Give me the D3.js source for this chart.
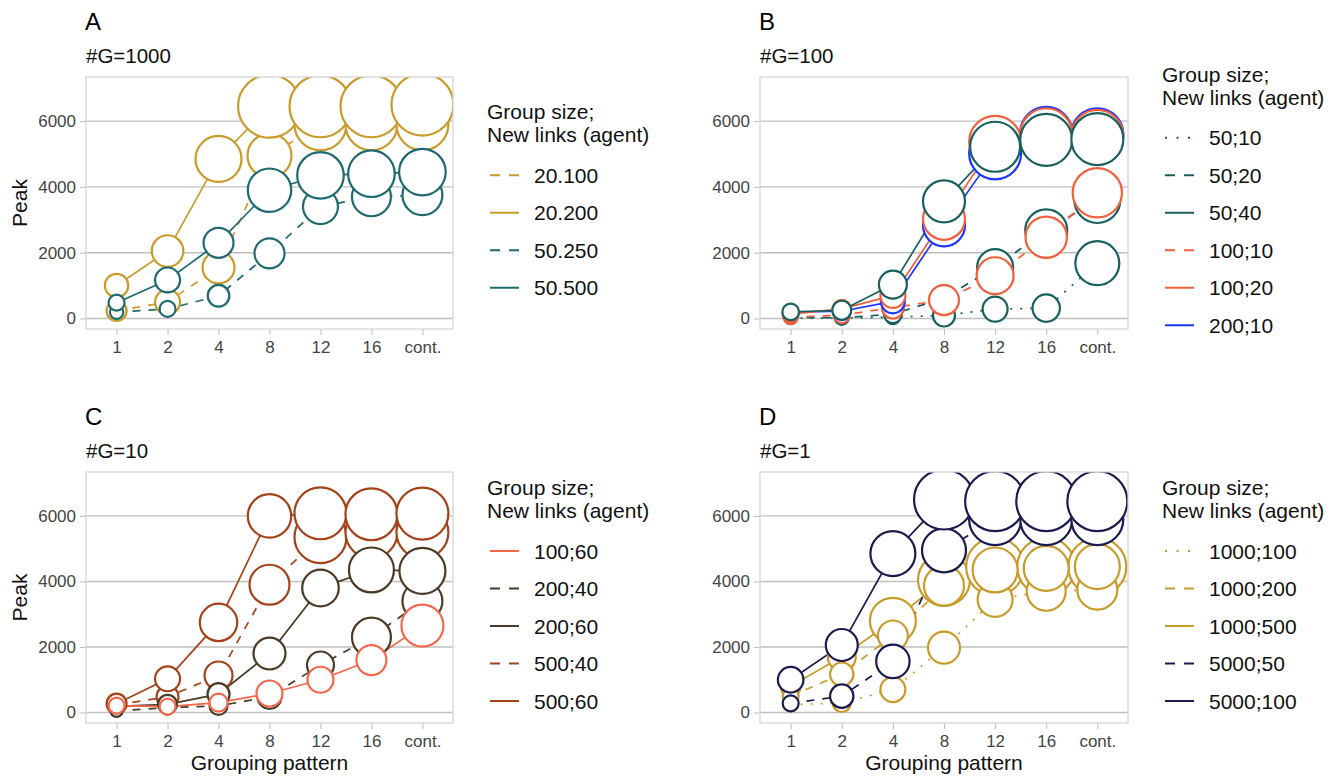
<!DOCTYPE html>
<html><head><meta charset="utf-8">
<script src="https://cdn.jsdelivr.net/npm/d3@7"></script>
<style>
body{margin:0;background:#fff}
text{font-family:"Liberation Sans",Arial,Helvetica,sans-serif}
</style>
</head><body>
<svg id="chart" width="1341" height="779"></svg>
<script>
// ---------------- data ----------------
const categories = ["1", "2", "4", "8", "12", "16", "cont."];
const yTicks = [0, 2000, 4000, 6000];
const legendTitle = ["Group size;", "New links (agent)"];

// Panel A  (#G=1000)
const labelsA = ["20.100", "20.200", "50.250", "50.500"];
const peaksA = [
  [230, 500, 1550, 4950, 5900, 5900, 5900],
  [1000, 2050, 4850, 6450, 6450, 6450, 6500],
  [190, 290, 690, 1980, 3400, 3700, 3750],
  [480, 1170, 2300, 3900, 4350, 4400, 4450]
];
const sizesA = [
  [1000, 1560, 2560, 4840, 6760, 6760, 6760],
  [1370, 2500, 5290, 9900, 9600, 9600, 9600],
  [450, 640, 1170, 2250, 3060, 3800, 4000],
  [640, 1560, 2250, 4710, 5430, 5430, 5430]
];

// Panel B  (#G=100)
const labelsB = ["50;10", "50;20", "50;40", "100;10", "100;20", "200;10"];
const peaksB = [
  [10, 10, 40, 90, 285, 315, 1680],
  [30, 20, 130, 620, 1560, 2680, 3600],
  [200, 250, 1030, 3560, 5220, 5430, 5450],
  [40, 100, 330, 560, 1300, 2470, 3820],
  [130, 290, 700, 3030, 5370, 5600, 5550],
  [190, 220, 520, 2830, 5020, 5640, 5600]
];
const sizesB = [
  [360, 360, 490, 1210, 1560, 1880, 4840],
  [420, 490, 810, 1690, 3240, 4410, 5290],
  [690, 900, 1960, 4410, 6250, 6760, 6760],
  [490, 640, 1210, 2250, 3420, 4280, 6080],
  [640, 810, 1560, 4410, 6760, 6760, 6760],
  [560, 810, 1440, 4410, 6760, 6760, 6760]
];

// Panel C  (#G=10)
const labelsC = ["100;60", "200;40", "200;60", "500;40", "500;60"];
const peaksC = [
  [210, 180, 300, 580, 1000, 1600, 2650],
  [50, 150, 200, 480, 1450, 2300, 3400],
  [190, 250, 560, 1800, 3800, 4350, 4320],
  [230, 480, 1130, 3900, 5350, 5500, 5500],
  [270, 1030, 2750, 6000, 6080, 6050, 6070]
];
const sizesC = [
  [640, 640, 810, 1690, 1690, 2250, 4410],
  [360, 490, 810, 1440, 1820, 3800, 4000],
  [490, 900, 1210, 2560, 3350, 5060, 5290],
  [640, 1210, 1960, 4000, 6760, 6760, 6760],
  [1000, 1560, 3500, 4710, 6760, 6760, 6760]
];

// Panel D  (#G=1)
const labelsD = ["1000;100", "1000;200", "1000;500", "5000;50", "5000;100"];
const peaksD = [
  [240, 290, 700, 1980, 3450, 3700, 3750],
  [500, 1170, 2350, 3870, 4350, 4400, 4450],
  [800, 1700, 2800, 4050, 4450, 4450, 4450],
  [280, 500, 1560, 4950, 5900, 5900, 5900],
  [1000, 2060, 4850, 6500, 6450, 6450, 6450]
];
const sizesD = [
  [490, 810, 1560, 2560, 3060, 3800, 4000],
  [640, 1370, 2250, 4000, 5060, 5060, 5060],
  [1000, 1960, 5290, 6760, 8410, 8410, 8410],
  [640, 1370, 2790, 4840, 6760, 6760, 6760],
  [1640, 2560, 5060, 9000, 9000, 9000, 9000]
];

// ---------------- styles ----------------
const colorsA = ["#C89B2A", "#C89B2A", "#1F6A6F", "#1F6A6F"];
const typesA = ["dashed", "solid", "dashed", "solid"];
const orderA = [0, 1, 2, 3];

const colorsB = ["#17605E", "#17605E", "#17605E", "#F0603E", "#F0603E", "#1E35FF"];
const typesB = ["dotted", "dashed", "solid", "dashed", "solid", "solid"];
const orderB = [0, 1, 3, 5, 4, 2];

const colorsC = ["#F4674B", "#4A3B28", "#4A3B28", "#A3431A", "#A3431A"];
const typesC = ["solid", "dashed", "solid", "dashed", "solid"];
const orderC = [3, 4, 1, 2, 0];

const colorsD = ["#C89B2A", "#C89B2A", "#C89B2A", "#1C1B50", "#1C1B50"];
const typesD = ["dotted", "dashed", "solid", "dashed", "solid"];
const orderD = [2, 0, 1, 3, 4];

const plotDash = {solid: null, dashed: "8,8", dotted: "2,8"};
const keyDash = {solid: null, dashed: "10,9", dotted: "2,9.5"};

const panels = [
  {tag: "A", sub: "#G=1000", labels: labelsA, peaks: peaksA, sizes: sizesA, colors: colorsA, types: typesA, order: orderA,
   box: {x: 86, y: 77, w: 367, h: 252}, yTitle: true, xTitle: false},
  {tag: "B", sub: "#G=100", labels: labelsB, peaks: peaksB, sizes: sizesB, colors: colorsB, types: typesB, order: orderB,
   box: {x: 760, y: 77, w: 368, h: 252}, yTitle: false, xTitle: false},
  {tag: "C", sub: "#G=10", labels: labelsC, peaks: peaksC, sizes: sizesC, colors: colorsC, types: typesC, order: orderC,
   box: {x: 86, y: 472, w: 367, h: 251}, yTitle: true, xTitle: true},
  {tag: "D", sub: "#G=1", labels: labelsD, peaks: peaksD, sizes: sizesD, colors: colorsD, types: typesD, order: orderD,
   box: {x: 760, y: 472, w: 368, h: 251}, yTitle: false, xTitle: true}
];

const svg = d3.select("#chart");
const rScale = d3.scaleSqrt().domain([0, 10000]).range([0, 31.6]);

panels.forEach((p, pi) => {
  const b = p.box;
  const x = d3.scalePoint().domain(categories).range([b.x, b.x + b.w]).padding(0.6);
  const y = d3.scaleLinear().domain([-320, 7340]).range([b.y + b.h, b.y]);
  const g = svg.append("g");

  // tag + subtitle
  g.append("text").attr("x", b.x - 1).attr("y", b.y - 47).attr("font-size", 24).attr("fill", "#000").text(p.tag);
  g.append("text").attr("x", b.x).attr("y", b.y - 14).attr("font-size", 20.5).attr("fill", "#111").text(p.sub);

  // grid
  g.selectAll(".grid").data(yTicks).join("line")
    .attr("x1", b.x).attr("x2", b.x + b.w)
    .attr("y1", d => y(d)).attr("y2", d => y(d))
    .attr("stroke", "#C0C0C0").attr("stroke-width", 1.4);

  // axes
  const yAxis = d3.axisLeft(y).tickValues(yTicks).tickSize(6).tickPadding(4).tickFormat(d3.format("d"));
  const ya = g.append("g").attr("transform", `translate(${b.x},0)`).call(yAxis);
  ya.select(".domain").remove();
  ya.selectAll(".tick line").attr("stroke", "#C0C0C0").attr("stroke-width", 1.1);
  ya.selectAll(".tick text").attr("font-size", 17).attr("fill", "#444")
    .attr("font-family", '"Liberation Sans",Arial,sans-serif');

  const xAxis = d3.axisBottom(x).tickSize(6).tickPadding(6);
  const xa = g.append("g").attr("transform", `translate(0,${b.y + b.h})`).call(xAxis);
  xa.select(".domain").remove();
  xa.selectAll(".tick line").attr("stroke", "#C0C0C0").attr("stroke-width", 1.1);
  xa.selectAll(".tick text").attr("font-size", 17).attr("fill", "#444")
    .attr("font-family", '"Liberation Sans",Arial,sans-serif');

  // clip
  const cid = "clip" + pi;
  svg.append("clipPath").attr("id", cid).append("rect")
    .attr("x", b.x).attr("y", b.y).attr("width", b.w).attr("height", b.h);
  const plot = g.append("g").attr("clip-path", `url(#${cid})`);

  const line = d3.line().x((d, i) => x(categories[i])).y(d => y(d));
  // lines
  p.order.forEach(si => {
    plot.append("path").datum(p.peaks[si]).attr("d", line)
      .attr("fill", "none").attr("stroke", p.colors[si]).attr("stroke-width", 1.7)
      .attr("stroke-dasharray", plotDash[p.types[si]]);
  });
  // points
  p.order.forEach(si => {
    plot.append("g").selectAll("circle").data(p.peaks[si]).join("circle")
      .attr("cx", (d, i) => x(categories[i])).attr("cy", d => y(d))
      .attr("r", (d, i) => rScale(p.sizes[si][i]))
      .attr("fill", "#fff").attr("stroke", p.colors[si]).attr("stroke-width", 2.2);
  });

  // border
  g.append("rect").attr("x", b.x).attr("y", b.y).attr("width", b.w).attr("height", b.h)
    .attr("fill", "none").attr("stroke", "#D2D2D2").attr("stroke-width", 1.2);

  // axis titles
  if (p.yTitle) {
    g.append("text").attr("transform", `translate(27,${b.y + b.h / 2}) rotate(-90)`)
      .attr("text-anchor", "middle").attr("font-size", 21).attr("fill", "#111").text("Peak");
  }
  if (p.xTitle) {
    g.append("text").attr("x", b.x + b.w / 2).attr("y", b.y + b.h + 47)
      .attr("text-anchor", "middle").attr("font-size", 21).attr("fill", "#111").text("Grouping pattern");
  }

  // legend
  const n = p.labels.length;
  const step = 37.5;
  const midY = b.y + b.h / 2 + 28.5;
  const first = midY - (n - 1) * step / 2;
  const lx = b.x + b.w + 34;
  const lg = g.append("g");
  lg.append("text").attr("x", lx).attr("y", first - 56).attr("font-size", 21).attr("fill", "#111").text(legendTitle[0]);
  lg.append("text").attr("x", lx).attr("y", first - 33).attr("font-size", 21).attr("fill", "#111").text(legendTitle[1]);
  p.labels.forEach((lab, i) => {
    const yy = first + i * step;
    lg.append("line").attr("x1", lx + 3).attr("x2", lx + 32).attr("y1", yy).attr("y2", yy)
      .attr("stroke", p.colors[i]).attr("stroke-width", 2)
      .attr("stroke-dasharray", keyDash[p.types[i]]);
    lg.append("text").attr("x", lx + 47).attr("y", yy).attr("dy", "0.36em")
      .attr("font-size", 21).attr("fill", "#111").text(lab);
  });
});
</script>
</body></html>
